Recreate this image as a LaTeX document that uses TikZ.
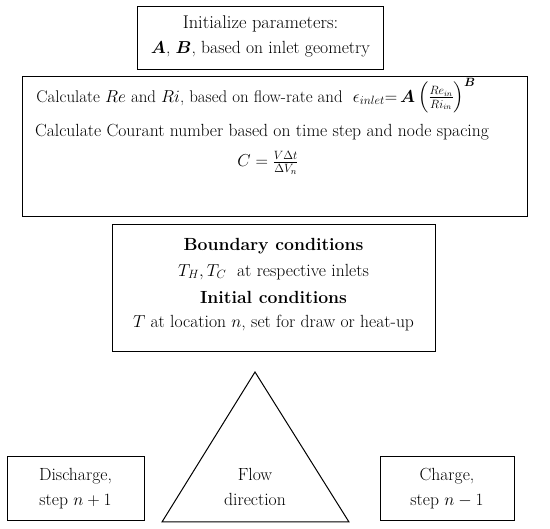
\documentclass[tikz,border=0pt]{standalone}
\usepackage{amsmath,bm}
\begin{document}
\begin{tikzpicture}[x=1pt,y=-1pt,
  box/.style={draw=black, line width=1pt, rectangle, inner sep=0pt},
  txt/.style={align=center, inner sep=0pt, font=\fontsize{17.6}{25}\selectfont}]
\useasboundingbox (0,0) rectangle (550,529);
% boxes
\node[box, minimum width=246, minimum height=63] (b1) at (260.5,38) {};
\node[box, minimum width=505, minimum height=140] (b2) at (274.5,147) {};
\node[box, minimum width=323, minimum height=127] (b3) at (273.5,288.5) {};
\node[box, minimum width=137, minimum height=64] (dis) at (75.5,489) {};
\node[box, minimum width=134, minimum height=64] (cha) at (447,489) {};
% triangle
\coordinate (tA) at (255,372);
\coordinate (tL) at (162,522);
\coordinate (tR) at (349,522);
\draw[line width=1pt, line join=miter] (tA) -- (tL) -- (tR) -- cycle;
% texts
\node[txt] (t1a) at (260.5,24) {\fontsize{18.4}{25}\selectfont Initialize parameters:};
\node[txt] (t1b) at (260.5,49) {$\bm{A}$, $\bm{B}$, based on inlet geometry};
\node[txt, font=\fontsize{16.9}{25}\selectfont] (t2a) at (256,96) {Calculate $Re$ and $Ri$, based on flow-rate and \ $\epsilon_{inlet}{=}\,\bm{A}\left(\frac{Re_{in}}{Ri_{in}}\right)^{\bm{B}}$};
\node[txt] (t2b) at (262,132) {Calculate Courant number based on time step and node spacing};
\node[txt] (t2c) at (268,163) {$C=\frac{V\Delta t}{\Delta V_n}$};
\node[txt] (t3a) at (273.5,246) {\textbf{Boundary conditions}};
\node[txt] (t3b) at (273.5,272) {$T_H, T_C$\ \ at respective inlets};
\node[txt] (t3c) at (273.5,297) {\textbf{Initial conditions}};
\node[txt] (t3d) at (273.5,323) {$T$ at location $n$, set for draw or heat-up};
\node[txt] (flow) at (255,487) {Flow\\direction};
\node[txt] (dtx) at (75.5,489) {Discharge,\\step $n+1$};
\node[txt] (ctx) at (447,489) {Charge,\\step $n-1$};
\end{tikzpicture}
\end{document}
